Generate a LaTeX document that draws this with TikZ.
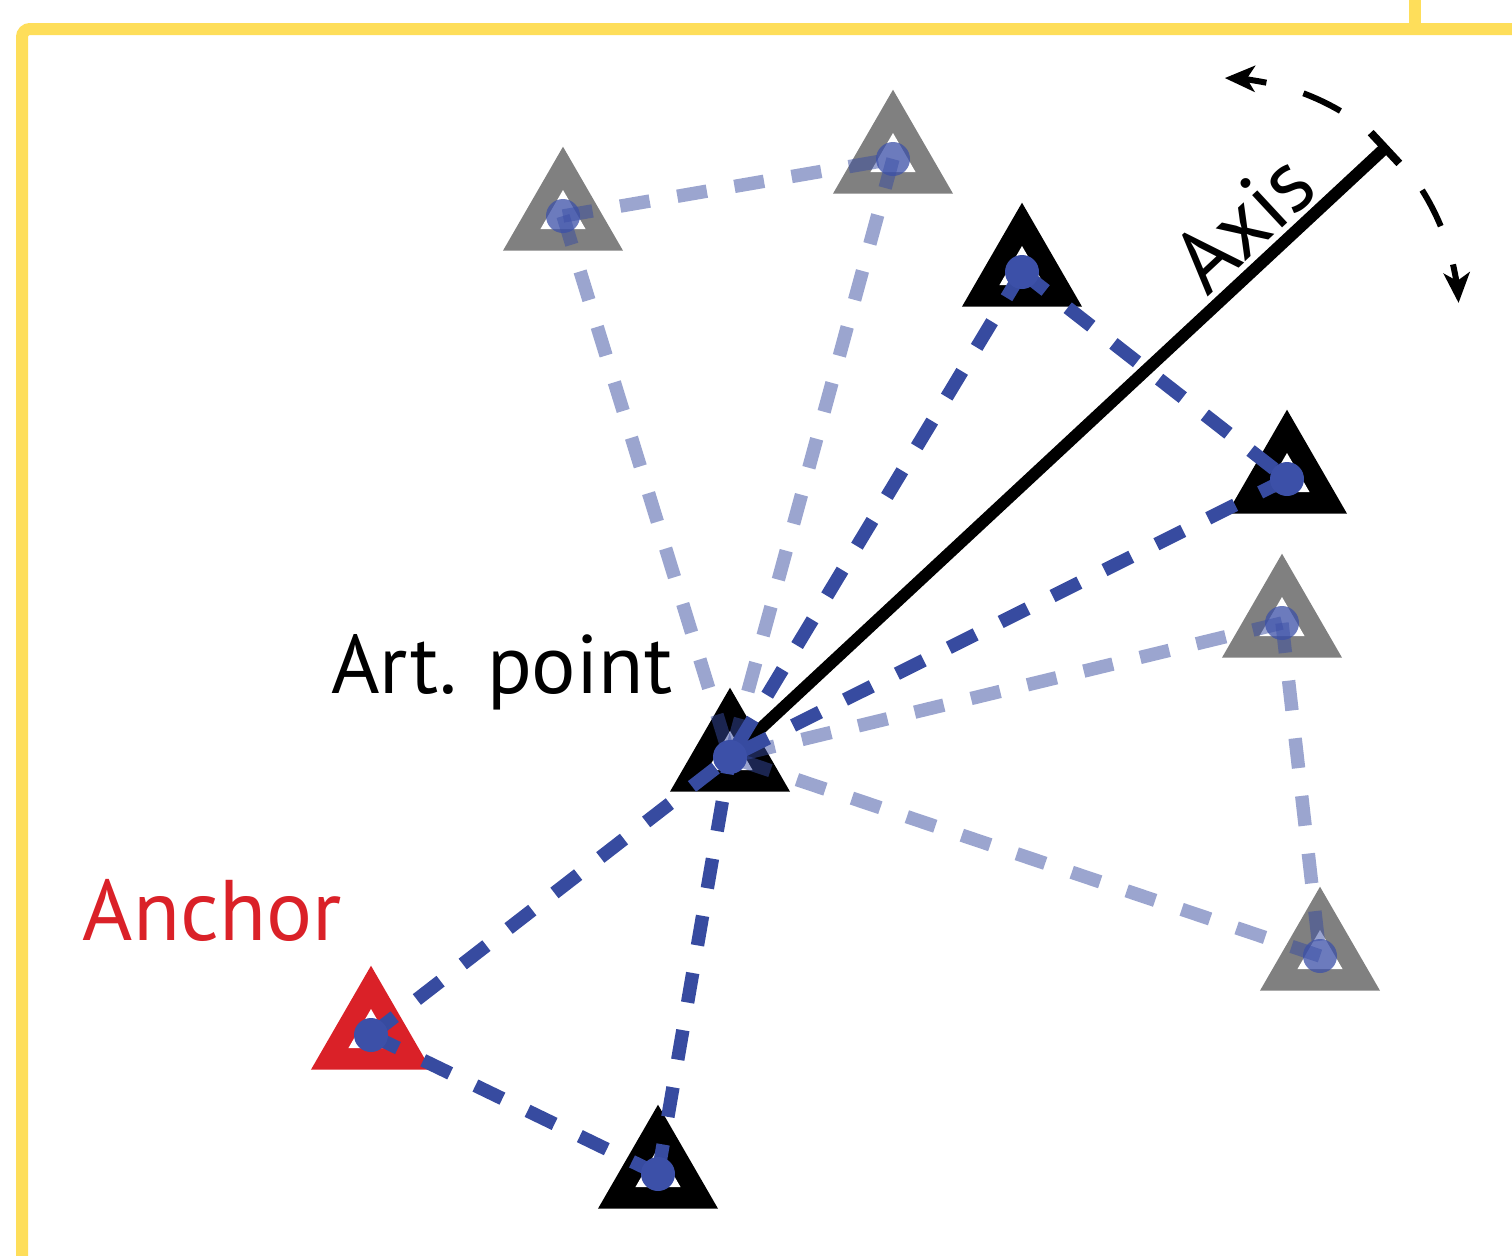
\documentclass[tikz,border=0pt]{standalone}
\usepackage{fontspec}
\setmainfont{PT Sans}
\usetikzlibrary{shapes.geometric,arrows.meta,calc}

\definecolor{frameyellow}{RGB}{254,222,90}
\definecolor{linkblue}{RGB}{55,75,160}
\definecolor{dotblue}{RGB}{60,80,168}
\definecolor{anchorred}{RGB}{218,33,40}
\definecolor{ghostgrey}{RGB}{128,128,128}

\tikzset{
  tri/.style={regular polygon, regular polygon sides=3, minimum size=69.3pt,
              inner sep=0pt, outer sep=0pt, draw=none},
  hole/.style={regular polygon, regular polygon sides=3, minimum size=26pt,
               inner sep=0pt, outer sep=0pt, draw=none, fill=white},
  solidtri/.style={tri, fill=black},
  ghosttri/.style={tri, fill=ghostgrey},
  anchortri/.style={tri, fill=anchorred},
  linkbase/.style={line width=6.7pt, line cap=butt, dash pattern=on 15pt off 14pt},
  darklink/.style={linkbase, draw=linkblue},
  lightlink/.style={linkbase, draw=linkblue, draw opacity=0.5},
  solidjoint/.style={fill=dotblue},
  ghostjoint/.style={fill=dotblue, fill opacity=0.75},
  axisline/.style={line width=6pt, draw=black},
  rotarc/.style={line width=3pt, draw=black, line cap=butt},
  lbl/.style={inner sep=0pt, outer sep=0pt, font=\fontsize{41.5pt}{50pt}\selectfont},
  frame/.style={line width=6pt, draw=frameyellow, rounded corners=4pt}
}

\begin{document}
\begin{tikzpicture}[x=0.5pt, y=-0.5pt]
\useasboundingbox (0,0) rectangle (1512,1255);
\clip (0,0) rectangle (1512,1255);

% panel frame
\draw[frame] (22,1280) -- (22,29) -- (1540,29);
\draw[frame, rounded corners=0pt] (1415,-10) -- (1415,29);

% markers
\node[ghosttri] (g1) at (563,216) {};
\node[ghosttri] (g2) at (893,159) {};
\node[solidtri] (b1) at (1022,272) {};
\node[solidtri] (b2) at (1287,479) {};
\node[ghosttri] (g3) at (1282,623) {};
\node[solidtri] (c)  at (730,757) {};
\node[ghosttri] (g4) at (1320,956) {};
\node[anchortri] (a) at (371,1035) {};
\node[solidtri] (b3) at (658,1174) {};
\foreach \n in {g1,g2,b1,b2,g3,c,g4,a,b3}
  \node[hole] (\n-h) at (\n.center) {};

% rotation axis
\coordinate (axend) at (1385,148);
\draw[axisline] (c.center) -- (axend);
\draw[line width=4pt] ($(axend)!10.5pt!90:(c.center)$) -- ($(axend)!10.5pt!-90:(c.center)$);
\node[lbl, rotate=42.9, font=\fontsize{44pt}{52pt}\selectfont] (axislbl) at (1243,222) {Axis};

% rotation direction
\draw[rotarc, -{Stealth[length=15pt, width=13pt, inset=4pt]}]
  (1266.4,82.7) arc[start angle=78.6, end angle=88.6, radius=120pt];
\draw[rotarc] (1303.4,93.3) arc[start angle=69.4, end angle=59.6, radius=120pt];
\draw[rotarc] (1422.1,190.1) arc[start angle=32.2, end angle=22.5, radius=120pt];
\draw[rotarc, -{Stealth[length=15pt, width=13pt, inset=4pt]}]
  (1453.0,264.4) arc[start angle=12.9, end angle=3.6, radius=120pt];

% alternative configuration links
\draw[lightlink] (g1.center) -- (g2.center);
\draw[lightlink] (g1.center) -- (c.center);
\draw[lightlink] (g2.center) -- (c.center);
\draw[lightlink] (g3.center) -- (c.center);
\draw[lightlink] (g3.center) -- (g4.center);
\draw[lightlink] (g4.center) -- (c.center);

% current configuration links
\draw[darklink] (a.center) -- (c.center);
\draw[darklink] (a.center) -- (b3.center);
\draw[darklink] (b3.center) -- (c.center);
\draw[darklink] (b1.center) -- (c.center);
\draw[darklink] (b1.center) -- (b2.center);
\draw[darklink] (b2.center) -- (c.center);

% joints
\foreach \n in {g1,g2,g3,g4}
  \fill[ghostjoint] (\n.center) circle[radius=8.5pt];
\foreach \n in {b1,b2,c,a,b3}
  \fill[solidjoint] (\n.center) circle[radius=8.5pt];

% labels
\node[lbl, anchor=base west] (artlbl) at (331,693) {Art. point};
\node[lbl, anchor=base west, text=anchorred, font=\fontsize{43pt}{50pt}\selectfont] (anchorlbl) at (83,940) {Anchor};
\end{tikzpicture}
\end{document}
